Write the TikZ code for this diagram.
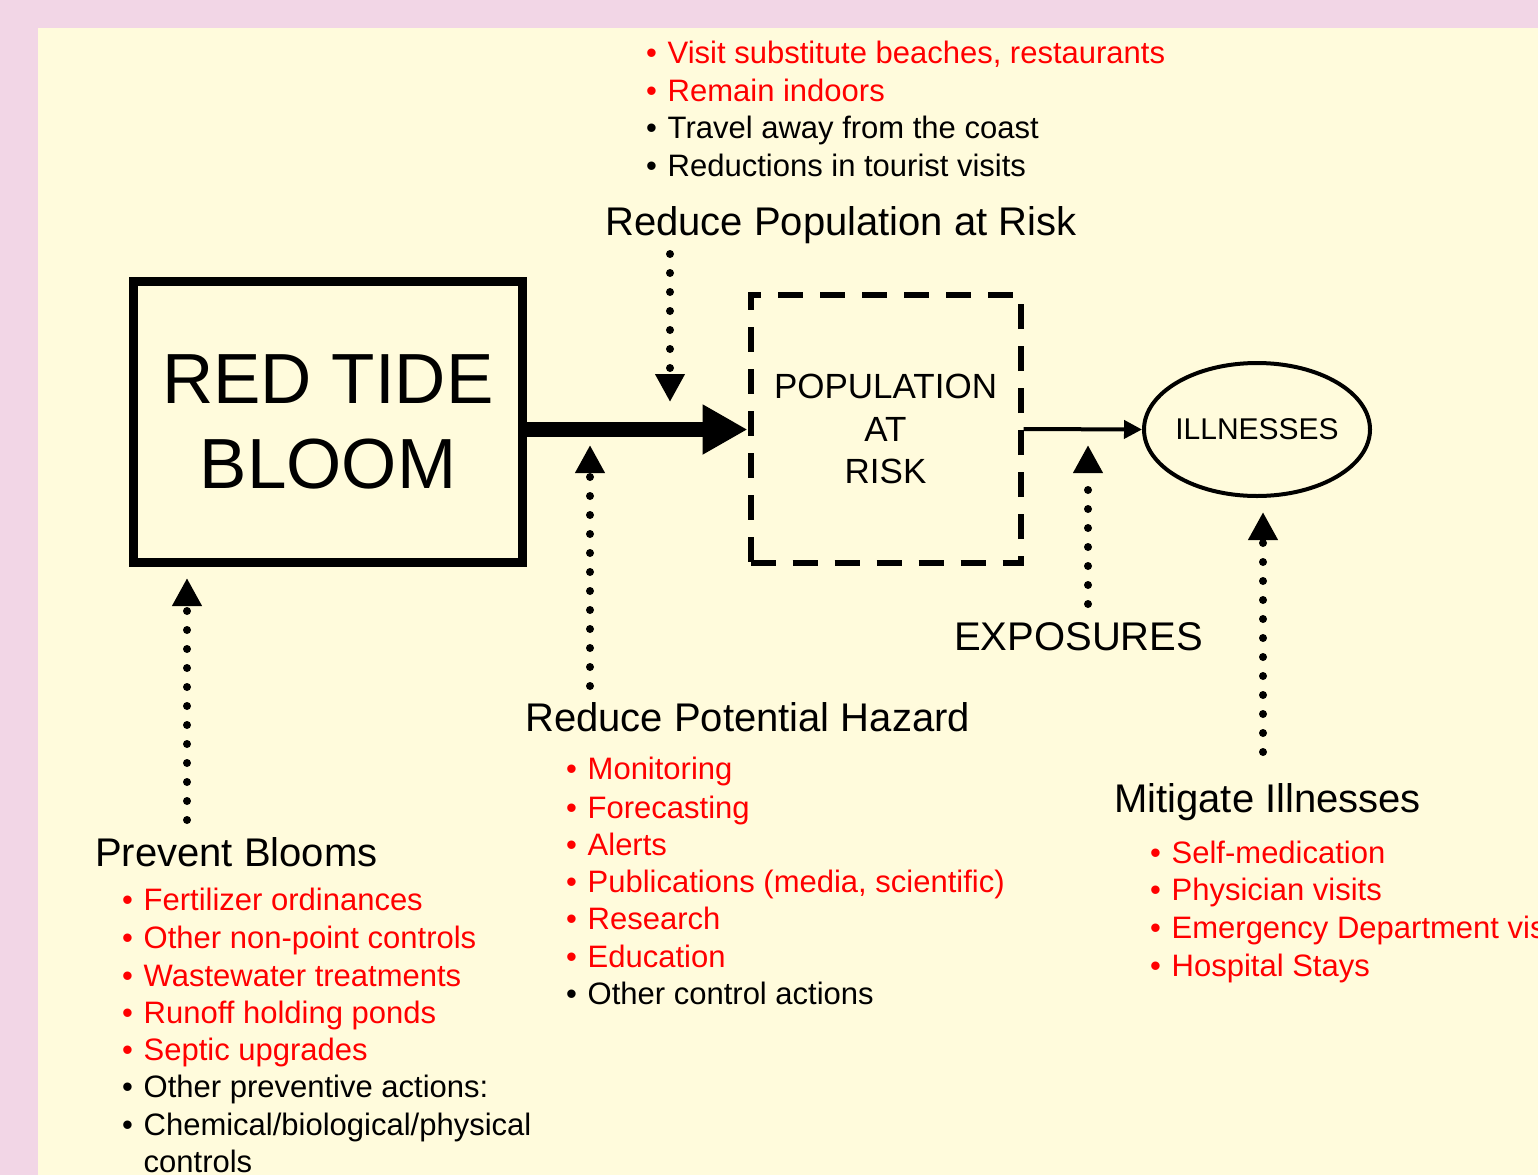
\documentclass[tikz,border=0pt]{standalone}
\usepackage{fontspec}
\setmainfont{Liberation Sans}
\usetikzlibrary{arrows.meta,shapes.geometric}
\definecolor{pinkbg}{RGB}{242,214,230}
\definecolor{creambg}{RGB}{255,251,220}
\definecolor{txtred}{RGB}{255,0,0}
\newcommand{\itm}{\makebox[21.5pt][l]{•}}
\begin{document}
\begin{tikzpicture}[x=1pt,y=-1pt,
  heading/.style={anchor=base west, inner sep=0pt, font=\fontsize{40}{48}\selectfont},
  listline/.style={anchor=base west, inner sep=0pt, font=\fontsize{31}{37.5}\selectfont},
  redline/.style={listline, text=txtred},
  dotarrow/.style={line width=8pt, line cap=round, dash pattern=on 0pt off 19pt, -{Triangle[length=28pt,width=28pt]}},
  ]
\useasboundingbox (0,0) rectangle (1538,1175);
\fill[pinkbg] (0,0) rectangle (1538,1175);
\fill[creambg] (38,28) rectangle (1538,1175);

% main nodes
\node[draw, line width=9pt, minimum width=389pt, minimum height=281pt, inner sep=0pt,
      align=center, font=\fontsize{71}{85}\selectfont] (bloom) at (328,422) {RED TIDE\\BLOOM};
\node[draw, line width=6pt, dash pattern=on 25pt off 17pt, minimum width=270pt, minimum height=268pt,
      inner sep=0pt, align=center, font=\fontsize{35}{42.5}\selectfont] (pop) at (885.5,429) {POPULATION\\AT\\RISK};
\node[draw, ellipse, line width=4pt, minimum width=226pt, minimum height=133pt, inner sep=0pt,
      font=\fontsize{30}{36}\selectfont] (ill) at (1257,429.5) {\makebox[0pt]{ILLNESSES}};

% connectors
\draw[line width=15pt, -{Triangle[length=45pt,width=47pt]}] (bloom.east |- 0,429.5) -- (pop.west |- 0,429.5);
\draw[line width=4pt, -{Triangle[length=18pt,width=18pt]}] (pop.east) -- (ill.west);

% headings
\node[heading] (hrp) at (605,235) {Reduce Population at Risk};
\node[heading] (hrh) at (525,731) {Reduce Potential Hazard};
\node[heading] (hexp) at (954,650) {EXPOSURES};
\node[heading] (hmit) at (1114,812) {Mitigate Illnesses};
\node[heading] (hprev) at (95,866) {Prevent Blooms};

% dotted arrows
\coordinate (d1s) at (670,254);  \coordinate (d1e) at (670,402);
\coordinate (d2s) at (590,686);  \coordinate (d2e) at (590,445);
\coordinate (d3s) at (1088,604); \coordinate (d3e) at (1088,445);
\coordinate (d4s) at (1263,752); \coordinate (d4e) at (1263,512);
\coordinate (d5s) at (187,820);  \coordinate (d5e) at (187,578);
\draw[dotarrow] (d1s) -- (d1e);
\draw[dotarrow] (d2s) -- (d2e);
\draw[dotarrow] (d3s) -- (d3e);
\draw[dotarrow] (d4s) -- (d4e);
\draw[dotarrow] (d5s) -- (d5e);

% top list
\node[redline] (t1) at (646,63) {\itm Visit substitute beaches, restaurants};
\node[redline] (t2) at (646,101) {\itm Remain indoors};
\node[listline] (t3) at (646,138) {\itm Travel away from the coast};
\node[listline] (t4) at (646,176) {\itm Reductions in tourist visits};

% hazard list
\node[redline] (h1) at (566,779) {\itm Monitoring};
\node[redline] (h2) at (566,818) {\itm Forecasting};
\node[redline] (h3) at (566,855) {\itm Alerts};
\node[redline] (h4) at (566,892) {\itm Publications (media, scientific)};
\node[redline] (h5) at (566,929) {\itm Research};
\node[redline] (h6) at (566,967) {\itm Education};
\node[listline] (h7) at (566,1004) {\itm Other control actions};

% mitigate list
\node[redline] (m1) at (1150,863) {\itm Self-medication};
\node[redline] (m2) at (1150,900) {\itm Physician visits};
\node[redline] (m3) at (1150,938) {\itm Emergency Department visits};
\node[redline] (m4) at (1150,976) {\itm Hospital Stays};

% prevent list
\node[redline] (p1) at (122,910) {\itm Fertilizer ordinances};
\node[redline] (p2) at (122,948) {\itm Other non-point controls};
\node[redline] (p3) at (122,986) {\itm Wastewater treatments};
\node[redline] (p4) at (122,1023) {\itm Runoff holding ponds};
\node[redline] (p5) at (122,1060) {\itm Septic upgrades};
\node[listline] (p6) at (122,1097) {\itm Other preventive actions:};
\node[listline] (p7) at (122,1135) {\itm Chemical/biological/physical};
\node[listline] (p8) at (143.5,1172) {controls};
\end{tikzpicture}
\end{document}
